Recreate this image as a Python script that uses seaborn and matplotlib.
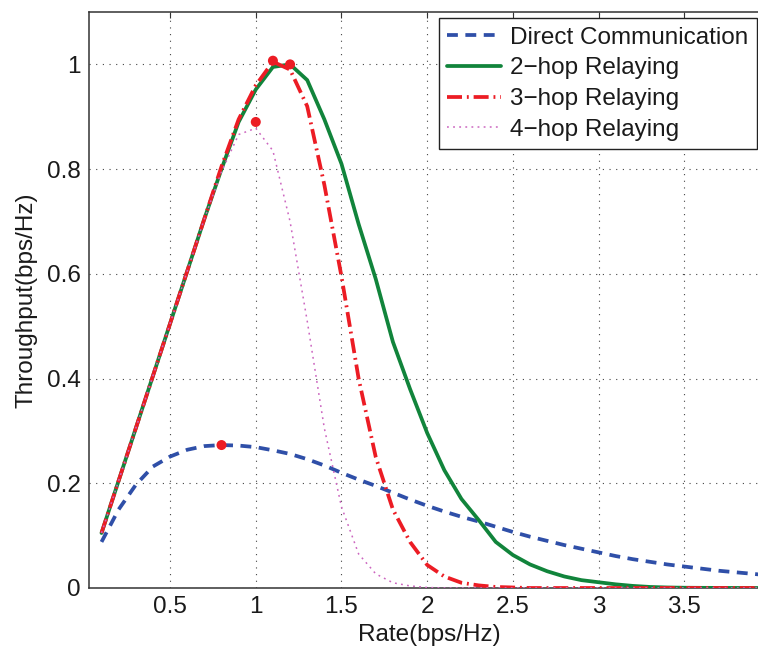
import matplotlib
matplotlib.use("Agg")
import matplotlib.pyplot as plt
import seaborn as sns

# ---- data ----
rate = [0.1, 0.2, 0.3, 0.4, 0.5, 0.6, 0.7, 0.8, 0.9, 1.0,
        1.1, 1.2, 1.3, 1.4, 1.5, 1.6, 1.7, 1.8, 1.9, 2.0,
        2.1, 2.2, 2.3, 2.4, 2.5, 2.6, 2.7, 2.8, 2.9, 3.0,
        3.1, 3.2, 3.3, 3.4, 3.5, 3.6, 3.7, 3.8, 3.9, 4.0]

direct = [0.088, 0.150, 0.197, 0.232, 0.251, 0.264, 0.271, 0.273, 0.272, 0.269,
          0.263, 0.256, 0.246, 0.234, 0.220, 0.207, 0.195, 0.182, 0.169, 0.157,
          0.146, 0.136, 0.127, 0.117, 0.107, 0.098, 0.090, 0.082, 0.075, 0.068,
          0.061, 0.055, 0.050, 0.045, 0.041, 0.037, 0.033, 0.030, 0.027, 0.024]

two_hop = [0.105, 0.205, 0.305, 0.405, 0.505, 0.605, 0.705, 0.800, 0.890, 0.952,
           0.995, 1.000, 0.970, 0.895, 0.810, 0.695, 0.590, 0.470, 0.380, 0.296,
           0.225, 0.170, 0.130, 0.088, 0.063, 0.045, 0.032, 0.022, 0.015, 0.011,
           0.007, 0.004, 0.002, 0.001, 0.0005, 0.0003, 0.0002, 0.0001, 0.0, 0.0]

three_hop = [0.105, 0.205, 0.305, 0.405, 0.505, 0.605, 0.705, 0.805, 0.895, 0.960,
             1.005, 0.990, 0.920, 0.770, 0.595, 0.400, 0.250, 0.150, 0.088, 0.044,
             0.022, 0.010, 0.005, 0.002, 0.001, 0.0, 0.0, 0.0, 0.0, 0.0,
             0.0, 0.0, 0.0, 0.0, 0.0, 0.0, 0.0, 0.0, 0.0, 0.0]

four_hop = [0.105, 0.205, 0.305, 0.405, 0.505, 0.605, 0.705, 0.795, 0.866, 0.878,
            0.835, 0.700, 0.510, 0.305, 0.155, 0.065, 0.027, 0.010, 0.004, 0.001,
            0.0, 0.0, 0.0, 0.0, 0.0, 0.0, 0.0, 0.0, 0.0, 0.0,
            0.0, 0.0, 0.0, 0.0, 0.0, 0.0, 0.0, 0.0, 0.0, 0.0]

opt_rate = [0.8, 1.0, 1.1, 1.2]
opt_throughput = [0.273, 0.890, 1.007, 1.000]

labels = ["Direct Communication", "2\u2212hop Relaying", "3\u2212hop Relaying", "4\u2212hop Relaying"]
xticks = [0.5, 1, 1.5, 2, 2.5, 3, 3.5]
xticklabels = ["0.5", "1", "1.5", "2", "2.5", "3", "3.5"]
yticks = [0, 0.2, 0.4, 0.6, 0.8, 1.0]
yticklabels = ["0", "0.2", "0.4", "0.6", "0.8", "1"]

# ---- styling ----
sns.set_style("white")
plt.rcParams["font.family"] = ["Liberation Sans", "DejaVu Sans"]

BLUE = "#2F4FA8"
GREEN = "#11843B"
RED = "#EC1C24"
MAGENTA = "#CC66C0"
TXT = "#1a1a1a"
FS = 17.5

fig = plt.figure(figsize=(7.58, 6.5), dpi=100)
ax = fig.add_axes([89 / 758, 62 / 650, (770 - 89) / 758, 576 / 650])

sns.lineplot(x=rate, y=direct, ax=ax, color=BLUE, linewidth=2.7,
             linestyle=(0, (2.9, 2.0)), label=labels[0], zorder=2)
sns.lineplot(x=rate, y=two_hop, ax=ax, color=GREEN, linewidth=2.7,
             linestyle="-", label=labels[1], zorder=3)
sns.lineplot(x=rate, y=three_hop, ax=ax, color=RED, linewidth=2.7,
             linestyle=(0, (4.0, 1.3, 0.5, 1.3)), label=labels[2], zorder=4)
sns.lineplot(x=rate, y=four_hop, ax=ax, color=MAGENTA, linewidth=1.1,
             linestyle=(0, (1.2, 2.8)), label=labels[3], zorder=4)
sns.scatterplot(x=opt_rate, y=opt_throughput, ax=ax, color=RED, s=52,
                edgecolor="none", zorder=6, legend=False)

ax.set_xlim(0.027, 4.0)
ax.set_ylim(0, 1.1)
ax.set_xticks(xticks)
ax.set_xticklabels(xticklabels)
ax.set_yticks(yticks)
ax.set_yticklabels(yticklabels)

ax.grid(True, color="#444444", linestyle=(0, (1, 5)), linewidth=0.8)
ax.tick_params(direction="in", length=4, width=0.8, top=True, right=True,
               labelsize=FS, colors="#333333", labelcolor=TXT, pad=6)
for sp in ax.spines.values():
    sp.set_color("#333333")
    sp.set_linewidth(1.1)

ax.set_xlabel("Rate(bps/Hz)", fontsize=FS, color=TXT, labelpad=4)
ax.set_ylabel("Throughput(bps/Hz)", fontsize=FS, color=TXT, labelpad=7)

leg = ax.legend(loc="upper right", bbox_to_anchor=(757 / 758, 1 - 18 / 650),
                bbox_transform=fig.transFigure, fontsize=FS, frameon=True,
                fancybox=False, edgecolor="#222222", framealpha=1,
                borderpad=0.35, labelspacing=0.36, handlelength=2.2,
                handletextpad=0.4, borderaxespad=0)
leg.get_frame().set_linewidth(1.0)
for t in leg.get_texts():
    t.set_color(TXT)

fig.savefig("out.png", dpi=100)
